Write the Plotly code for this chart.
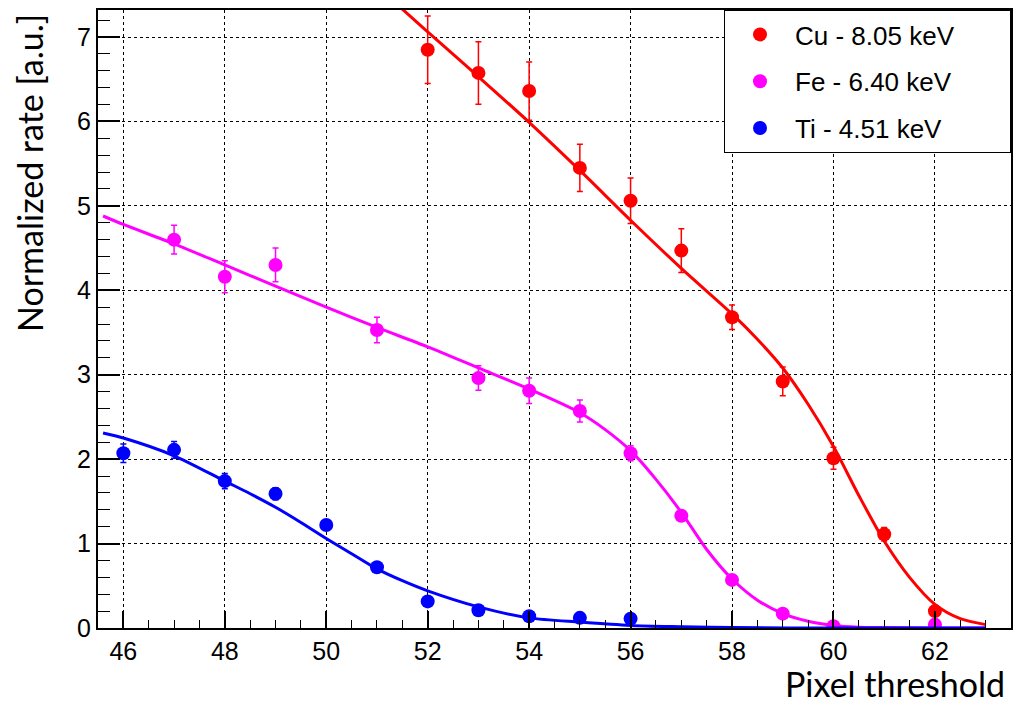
import plotly.graph_objects as go

# ---- data ----
cu_x = [52, 53, 54, 55, 56, 57, 58, 59, 60, 61, 62]
cu_y = [6.85, 6.575, 6.36, 5.45, 5.06, 4.47, 3.68, 2.92, 2.01, 1.11, 0.20]
cu_err = [0.40, 0.37, 0.345, 0.28, 0.27, 0.26, 0.145, 0.17, 0.13, 0.08, 0.03]

fe_x = [47, 48, 49, 51, 53, 54, 55, 56, 57, 58, 59, 60, 62]
fe_y = [4.60, 4.16, 4.30, 3.53, 2.96, 2.81, 2.57, 2.07, 1.33, 0.57, 0.17, 0.02, 0.04]
fe_err = [0.17, 0.19, 0.20, 0.15, 0.145, 0.15, 0.13, 0.09, 0.05, 0.03, 0.02, 0.01, 0.01]

ti_x = [46, 47, 48, 49, 50, 51, 52, 53, 54, 55, 56]
ti_y = [2.07, 2.11, 1.74, 1.59, 1.22, 0.72, 0.315, 0.21, 0.14, 0.12, 0.11]
ti_err = [0.11, 0.10, 0.09, 0.07, 0.04, 0.03, 0.02, 0.01, 0.01, 0.01, 0.01]

# fitted curves
cu_fit_x = [51.0, 51.5, 52, 53, 54, 55, 56, 57, 58, 58.5, 59, 59.5, 60, 60.5, 61, 61.5, 62, 62.5, 63]
cu_fit_y = [7.59, 7.33, 7.06, 6.53, 5.99, 5.42, 4.83, 4.26, 3.72, 3.42, 3.08, 2.65, 2.15, 1.57, 1.03, 0.60, 0.28, 0.11, 0.04]

fe_fit_x = [45.6, 46, 47, 48, 49, 50, 51, 52, 53, 54, 55, 55.5, 56, 56.5, 57, 57.5, 58, 58.5, 59, 59.5, 60, 60.5, 61, 62, 63]
fe_fit_y = [4.88, 4.78, 4.55, 4.30, 4.05, 3.80, 3.56, 3.33, 3.08, 2.83, 2.55, 2.35, 2.10, 1.76, 1.37, 0.93, 0.58, 0.33, 0.17, 0.08, 0.03, 0.01, 0.005, 0.0, 0.0]

ti_fit_x = [45.6, 46, 47, 48, 48.5, 49, 49.5, 50, 50.5, 51, 51.5, 52, 53, 54, 55, 56, 57, 58, 60, 63]
ti_fit_y = [2.31, 2.25, 2.04, 1.74, 1.59, 1.43, 1.25, 1.06, 0.88, 0.70, 0.56, 0.44, 0.25, 0.12, 0.07, 0.03, 0.015, 0.005, 0.0, 0.0]

labels = ["Cu - 8.05 keV", "Fe - 6.40 keV", "Ti - 4.51 keV"]
colors = ["#ff0000", "#ff00ff", "#0000ff"]

fig = go.Figure()
series = [
    (cu_x, cu_y, cu_err, cu_fit_x, cu_fit_y),
    (fe_x, fe_y, fe_err, fe_fit_x, fe_fit_y),
    (ti_x, ti_y, ti_err, ti_fit_x, ti_fit_y),
]
pad = "\u00a0" * 7
for i, (x, y, e, fx, fy) in enumerate(series):
    c = colors[i]
    fig.add_trace(go.Scatter(
        x=x, y=y, mode="markers", name=labels[i] + pad, legendgroup=labels[i],
        marker=dict(color=c, size=14, line=dict(width=0)),
        error_y=dict(type="data", array=e, visible=True, color=c, thickness=1.5, width=3),
    ))
    fig.add_trace(go.Scatter(
        x=fx, y=fy, mode="lines", showlegend=False, hoverinfo="skip",
        line=dict(color=c, width=3, shape="spline", smoothing=0.8),
    ))

tickfont = dict(family="Liberation Sans, Arial, sans-serif", size=25, color="black")
fig.update_xaxes(
    range=[45.5, 63.5], dtick=2, tick0=46, ticks="inside", ticklen=17, tickwidth=1.5,
    tickcolor="black", showline=True, linecolor="black", linewidth=2, mirror=True,
    showgrid=True, gridcolor="black", griddash="dot", gridwidth=1.2, zeroline=False,
    tickfont=tickfont,
    minor=dict(dtick=0.5, tick0=46, ticks="inside", ticklen=8, tickwidth=1.2, tickcolor="black", showgrid=False),
)
fig.update_yaxes(
    range=[0, 7.32], dtick=1, tick0=0, ticks="inside", ticklen=22, tickwidth=1.5,
    tickcolor="black", showline=True, linecolor="black", linewidth=2, mirror=True,
    showgrid=True, gridcolor="black", griddash="dot", gridwidth=1.2, zeroline=False,
    tickfont=tickfont,
    minor=dict(dtick=0.2, tick0=0, ticks="inside", ticklen=12, tickwidth=1.2, tickcolor="black", showgrid=False),
)

titlefont = dict(family="Lato, Noto Sans, sans-serif", size=34, color="black")
fig.update_layout(
    width=1014, height=699,
    margin=dict(l=90, r=11, t=0, b=79),
    paper_bgcolor="white", plot_bgcolor="white",
    legend=dict(
        x=1, y=1, xanchor="right", yanchor="top",
        bgcolor="white", bordercolor="black", borderwidth=1,
        font=dict(family="Liberation Sans, Arial, sans-serif", size=26, color="black"),
        tracegroupgap=10, itemwidth=60,
    ),
    annotations=[
        dict(text="Pixel threshold", xref="paper", yref="paper", x=1, y=0,
             xanchor="right", yanchor="bottom", xshift=-4, yshift=-78,
             showarrow=False, font=titlefont),
        dict(text="Normalized rate [a.u.]", xref="paper", yref="paper", x=0, y=1,
             xanchor="center", yanchor="top", xshift=-69, yshift=-2, textangle=-90,
             showarrow=False, font=titlefont),
    ],
)

fig.write_html("out.html")
